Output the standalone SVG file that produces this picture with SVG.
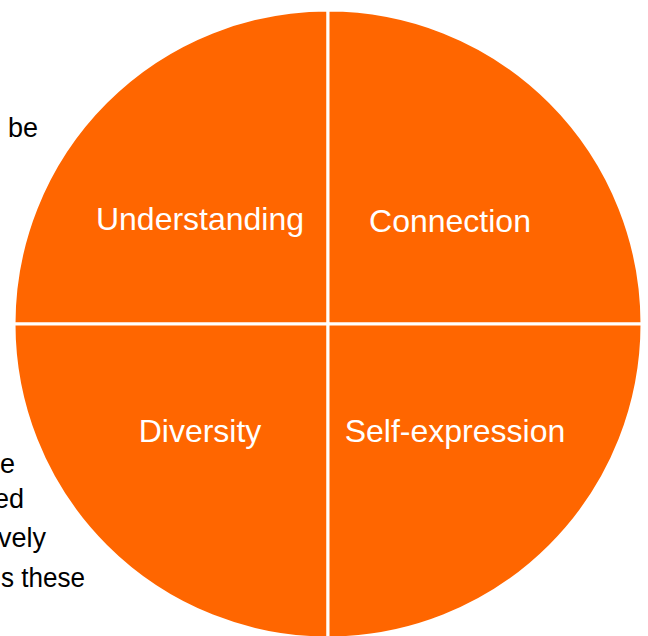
<svg xmlns="http://www.w3.org/2000/svg" width="648" height="636" viewBox="0 0 648 636">
  <style>
    .quad { fill: #FF6600; stroke: #FFFFFF; stroke-width: 3; stroke-linejoin: miter; }
    .label { font-family: "Liberation Sans", Arial, sans-serif; font-size: 32px; fill: #FFFFFF; text-anchor: middle; }
    .body { font-family: "Liberation Sans", Arial, sans-serif; font-size: 27px; fill: #000000; text-anchor: end; }
  </style>
  <rect width="648" height="636" fill="#FFFFFF"/>

  <!-- fragments of the running body text to the left of the wheel -->
  <g id="body-text">
    <text class="body" x="38" y="137">be</text>
    <text class="body" x="15" y="473">e</text>
    <text class="body" x="24" y="508">ed</text>
    <text class="body" x="46" y="547">vely</text>
    <text class="body" x="85" y="587" textLength="84" lengthAdjust="spacingAndGlyphs">s these</text>
  </g>

  <!-- four-part wheel: centre (328, 324), radius 314 -->
  <g id="understanding">
    <path class="quad" d="M328 324 L14 324 A314 314 0 0 1 328 10 Z"/>
    <text class="label" x="200" y="230">Understanding</text>
  </g>
  <g id="connection">
    <path class="quad" d="M328 324 L328 10 A314 314 0 0 1 642 324 Z"/>
    <text class="label" x="450" y="232">Connection</text>
  </g>
  <g id="diversity">
    <path class="quad" d="M328 324 L328 638 A314 314 0 0 1 14 324 Z"/>
    <text class="label" x="200" y="442">Diversity</text>
  </g>
  <g id="self-expression">
    <path class="quad" d="M328 324 L642 324 A314 314 0 0 1 328 638 Z"/>
    <text class="label" x="455" y="442">Self-expression</text>
  </g>
  <g id="connectors"/>
</svg>
